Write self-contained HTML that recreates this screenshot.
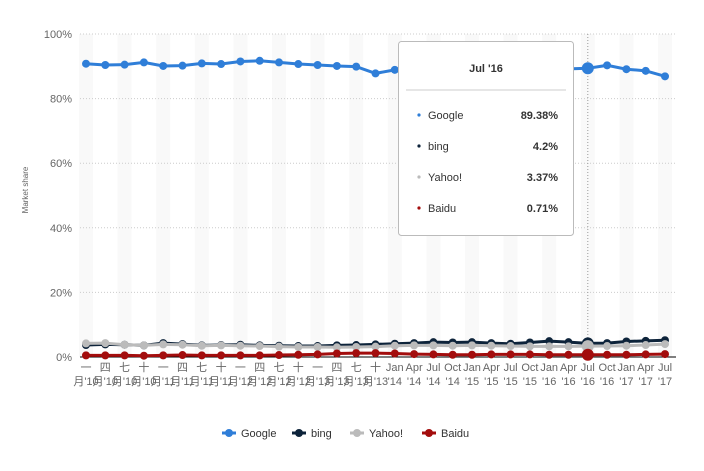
<!DOCTYPE html>
<html><head><meta charset="utf-8"><style>
body{margin:0;background:#fff;font-family:"Liberation Sans","Noto Sans CJK SC",sans-serif}
</style></head><body>
<svg id="s" width="704" height="466" xmlns="http://www.w3.org/2000/svg" font-family="Liberation Sans, Noto Sans CJK SC, sans-serif"></svg>
<script>
var s=document.getElementById('s'),h='';
function Y(v){return 357-v*3.23}
function X(i){return 86+i*19.3}
for(var i=0;i<31;i+=2){h+='<rect x="'+(X(i)-7)+'" y="34" width="14" height="323" fill="#f9f9f9"/>';}
[0,20,40,60,80,100].forEach(function(v){var y=Y(v);
if(v>0)h+='<line x1="80" x2="676" y1="'+y+'" y2="'+y+'" stroke="#ccc" stroke-dasharray="1,2"/>';
h+='<text x="72" y="'+(y+4)+'" text-anchor="end" font-size="11" fill="#666">'+v+'%</text>';});
h+='<line x1="80" x2="676" y1="357" y2="357" stroke="#000"/>';
h+='<line x1="'+X(26)+'" x2="'+X(26)+'" y1="34" y2="357" stroke="#999" stroke-dasharray="1,2"/>';
h+='<text transform="translate(28,190) rotate(-90)" text-anchor="middle" font-size="8" fill="#666">Market share</text>';
var g=[90.8,90.4,90.5,91.2,90.1,90.2,90.9,90.7,91.5,91.7,91.2,90.7,90.4,90.1,89.9,87.8,88.9,89.2,89.5,89.4,89.7,89.3,90.0,89.5,89.6,89.2,89.38,90.3,89.1,88.6,86.9];
var b=[3.7,3.9,3.8,3.6,4.3,4.0,3.6,3.7,3.8,3.6,3.5,3.4,3.4,3.6,3.7,3.9,4.1,4.3,4.6,4.5,4.6,4.3,4.1,4.5,4.9,4.6,4.2,4.3,4.8,5.0,5.2];
var y=[4.2,4.3,3.8,3.6,3.9,3.8,3.5,3.6,3.5,3.4,3.2,3.1,3.1,3.0,3.1,3.2,3.5,3.6,3.6,3.5,3.6,3.5,3.4,3.3,3.3,3.3,3.37,3.4,3.5,3.7,4.0];
var d=[0.5,0.5,0.5,0.4,0.5,0.6,0.5,0.5,0.5,0.5,0.6,0.7,0.8,1.1,1.2,1.2,1.1,0.9,0.8,0.7,0.7,0.8,0.8,0.8,0.7,0.7,0.71,0.7,0.7,0.8,0.9];
function ser(a,c){var p=a.map(function(v,i){return X(i)+','+Y(v)}).join(' ');
h+='<polyline points="'+p+'" fill="none" stroke="'+c+'" stroke-width="3"/>';
a.forEach(function(v,i){h+='<circle cx="'+X(i)+'" cy="'+Y(v)+'" r="'+(i==26?6:4)+'" fill="'+c+'"/>';});}
ser(b,'#0d233a');ser(y,'#bbbbbb');ser(d,'#a30d0d');ser(g,'#2f7ed8');
var cn=['一','四','七','十'];
for(var i=0;i<31;i++){var x=X(i),t1,t2,yr=10+Math.floor(i/4);
if(i<16){t1=cn[i%4];t2="月'"+yr;}else{t1=['Jan','Apr','Jul','Oct'][i%4];t2="'"+yr;}
h+='<text x="'+x+'" y="371" text-anchor="middle" font-size="11" fill="#666">'+t1+'</text><text x="'+x+'" y="385" text-anchor="middle" font-size="11" fill="#666">'+t2+'</text>';}
h+='<rect x="398.5" y="41.5" width="175" height="194" rx="3" fill="#fff" stroke="#bbb"/>';
h+='<text x="486" y="72" text-anchor="middle" font-size="11" font-weight="bold" fill="#333">Jul \'16</text>';
h+='<line x1="406" x2="566" y1="90" y2="90" stroke="#ccc"/>';
[['Google','89.38%','#2f7ed8'],['bing','4.2%','#0d233a'],['Yahoo!','3.37%','#bbb'],['Baidu','0.71%','#a30d0d']].forEach(function(r,k){var yy=119+k*31;
h+='<circle cx="419" cy="'+(yy-4)+'" r="1.6" fill="'+r[2]+'"/><text x="428" y="'+yy+'" font-size="11" fill="#333">'+r[0]+'</text><text x="558" y="'+yy+'" text-anchor="end" font-size="11" font-weight="bold" fill="#333">'+r[1]+'</text>';});
[['Google',222,'#2f7ed8'],['bing',292,'#0d233a'],['Yahoo!',350,'#bbb'],['Baidu',422,'#a30d0d']].forEach(function(r){
h+='<line x1="'+r[1]+'" x2="'+(r[1]+14)+'" y1="433" y2="433" stroke="'+r[2]+'" stroke-width="3"/><circle cx="'+(r[1]+7)+'" cy="433" r="4" fill="'+r[2]+'"/><text x="'+(r[1]+19)+'" y="437" font-size="11" fill="#333">'+r[0]+'</text>';});
s.innerHTML=h;
</script>
</body></html>
